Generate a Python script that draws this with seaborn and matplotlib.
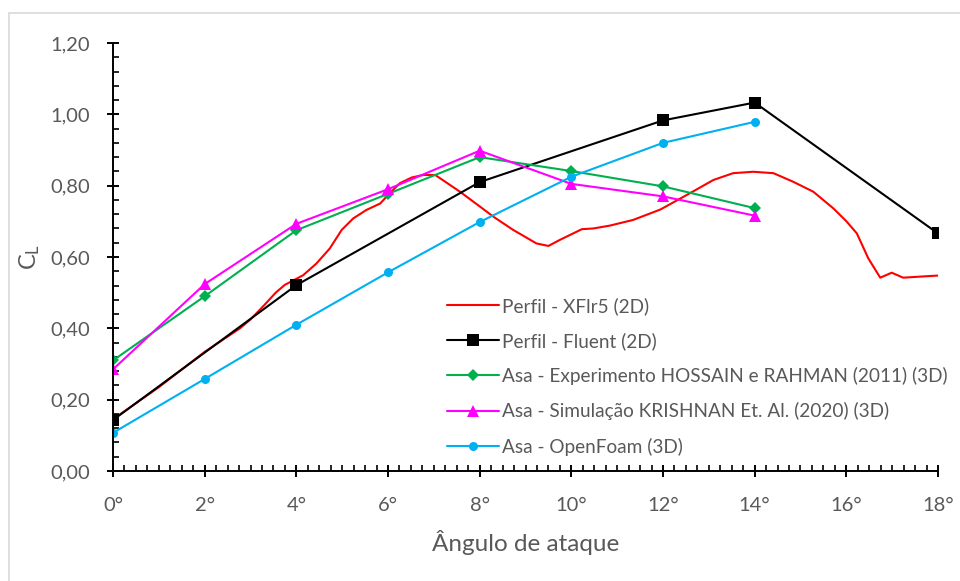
import numpy as np
import pandas as pd
import matplotlib
matplotlib.use("Agg")
import matplotlib.pyplot as plt
import seaborn as sns
from matplotlib.ticker import MultipleLocator, FuncFormatter
from matplotlib.patches import Rectangle

# ---- data ----
xflr_alpha = [0.0, 1.0, 2.0, 2.77, 3.0, 3.3, 3.55, 3.75, 3.93, 4.15, 4.44, 4.73, 4.99, 5.24, 5.53, 5.83,
              6.04, 6.26, 6.52, 6.77, 7.03, 7.57, 8.01, 8.30, 8.73, 9.24, 9.50, 9.75,
              10.23, 10.48, 10.84, 11.35, 11.94, 12.59, 13.10, 13.53, 13.97, 14.41,
              14.84, 15.28, 15.72, 16.01, 16.23, 16.48, 16.74, 16.99, 17.24, 17.61, 18.0]
xflr_cl = [0.145, 0.235, 0.334, 0.400, 0.425, 0.465, 0.500, 0.522, 0.534, 0.549, 0.582, 0.624, 0.676, 0.708,
           0.732, 0.750, 0.779, 0.807, 0.823, 0.830, 0.830, 0.783, 0.741, 0.713, 0.676,
           0.638, 0.631, 0.648, 0.678, 0.680, 0.688, 0.704, 0.733, 0.779, 0.816, 0.835,
           0.839, 0.835, 0.811, 0.783, 0.736, 0.699, 0.666, 0.596, 0.542, 0.556, 0.542,
           0.545, 0.548]

fluent_alpha = [0, 4, 8, 12, 14, 18]
fluent_cl = [0.143, 0.521, 0.810, 0.983, 1.033, 0.666]

wing_alpha = [0, 2, 4, 6, 8, 10, 12, 14]
hossain_cl = [0.310, 0.490, 0.675, 0.777, 0.880, 0.841, 0.798, 0.737]
krishnan_cl = [0.285, 0.524, 0.693, 0.790, 0.898, 0.805, 0.770, 0.716]
openfoam_cl = [0.107, 0.258, 0.410, 0.557, 0.698, 0.825, 0.920, 0.979]

labels = ["Perfil - XFlr5 (2D)",
          "Perfil - Fluent (2D)",
          "Asa - Experimento HOSSAIN e RAHMAN (2011) (3D)",
          "Asa - Simulação KRISHNAN Et. Al. (2020) (3D)",
          "Asa - OpenFoam (3D)"]
x_ticks = [0, 2, 4, 6, 8, 10, 12, 14, 16, 18]
y_ticks = [0.0, 0.2, 0.4, 0.6, 0.8, 1.0, 1.2]

# ---- style ----
sns.set_theme(style="white")
plt.rcParams['font.family'] = ['Lato', 'DejaVu Sans']
plt.rcParams['mathtext.fontset'] = 'custom'
plt.rcParams['mathtext.rm'] = 'Lato'
plt.rcParams['mathtext.it'] = 'Lato:italic'

gray = '#595959'
fig = plt.figure(figsize=(9.6, 5.81), dpi=100)
ax = fig.add_axes([113/960, 1-471/581, (938-113)/960, (471-43)/581])

# chart border (Excel chart area)
fig.add_artist(Rectangle((9/960, -0.1), 1.2, 1-13/581+0.1, transform=fig.transFigure,
                         fill=False, edgecolor='#d9d9d9', linewidth=1.2))

lw = 1.5
sns.lineplot(x=xflr_alpha, y=xflr_cl, ax=ax, color='#FF0000', lw=lw, label=labels[0], sort=False)
sns.lineplot(x=fluent_alpha, y=fluent_cl, ax=ax, color='#000000', lw=lw, marker='s',
             markersize=8, markeredgewidth=0, label=labels[1])
sns.lineplot(x=wing_alpha, y=hossain_cl, ax=ax, color='#00B050', lw=lw, marker='D',
             markersize=6.5, markeredgewidth=0, label=labels[2])
sns.lineplot(x=wing_alpha, y=krishnan_cl, ax=ax, color='#FF00FF', lw=lw, marker='^',
             markersize=9, markeredgewidth=0, label=labels[3])
sns.lineplot(x=wing_alpha, y=openfoam_cl, ax=ax, color='#00B0F0', lw=lw, marker='o',
             markersize=6.5, markeredgewidth=0, label=labels[4])

ax.set_xlim(0, 18)
ax.set_ylim(0, 1.2)
ax.set_xticks(x_ticks)
ax.set_yticks(y_ticks)
ax.xaxis.set_minor_locator(MultipleLocator(0.25))
ax.yaxis.set_minor_locator(MultipleLocator(0.04))
ax.xaxis.set_major_formatter(FuncFormatter(lambda v, p: f"{v:.0f}°"))
ax.yaxis.set_major_formatter(FuncFormatter(lambda v, p: f"{v:.2f}".replace('.', ',')))

for s in ['top', 'right']:
    ax.spines[s].set_visible(False)
for s in ['left', 'bottom']:
    ax.spines[s].set_color('black')
    ax.spines[s].set_linewidth(1.4)

ax.tick_params(axis='both', which='major', direction='inout', length=9, width=1.4,
               color='black', labelcolor=gray, labelsize=14.5, bottom=True, left=True)
ax.tick_params(axis='x', which='major', pad=14)
ax.tick_params(axis='y', which='major', pad=12)
ax.tick_params(axis='both', which='minor', direction='in', length=4.5, width=1.2,
               color='black', bottom=True, left=True)

ax.set_xlabel("Ângulo de ataque", fontsize=17.5, color=gray, labelpad=12)
ax.set_ylabel(r"C$_{\mathrm{L}}$", fontsize=17, color=gray, labelpad=6)

ax.legend(loc='upper left', bbox_to_anchor=(447/960, 1-297/581),
          bbox_transform=fig.transFigure, frameon=False, fontsize=13.7,
          handlelength=2.75, handletextpad=0.15, labelspacing=0.9,
          borderpad=0, borderaxespad=0, labelcolor=gray)

ax.set_facecolor('white')
fig.patch.set_facecolor('white')
fig.savefig("out.png", dpi=100)
